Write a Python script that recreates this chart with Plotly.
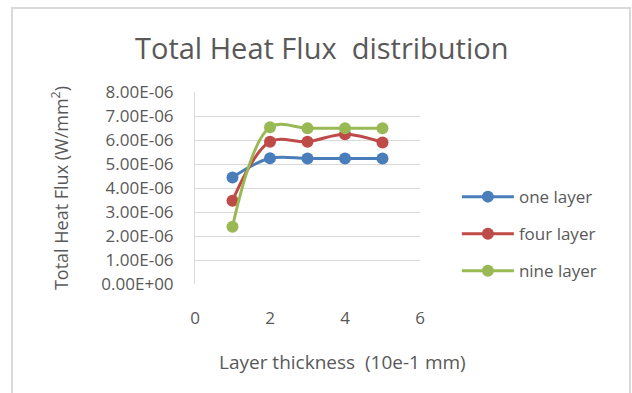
import plotly.graph_objects as go

x_vals = [1, 2, 3, 4, 5]
one_layer = [4.44e-6, 5.24e-6, 5.23e-6, 5.23e-6, 5.23e-6]
four_layer = [3.47e-6, 5.93e-6, 5.93e-6, 6.24e-6, 5.90e-6]
nine_layer = [2.39e-6, 6.53e-6, 6.49e-6, 6.49e-6, 6.49e-6]
series_names = ["one layer", "four layer", "nine layer"]
colors = ["#4a7ebb", "#be4b48", "#98b954"]
y_tick_vals = [0, 1e-6, 2e-6, 3e-6, 4e-6, 5e-6, 6e-6, 7e-6, 8e-6]
y_tick_text = ["0.00E+00", "1.00E-06", "2.00E-06", "3.00E-06", "4.00E-06",
               "5.00E-06", "6.00E-06", "7.00E-06", "8.00E-06"]
x_tick_vals = [0, 2, 4, 6]

FONT = "Open Sans, Lato, sans-serif"
TXT = "#595959"

fig = go.Figure()
for name, ys, c in zip(series_names, [one_layer, four_layer, nine_layer], colors):
    fig.add_trace(go.Scatter(
        x=x_vals, y=ys, name=name, mode="lines+markers",
        line=dict(color=c, width=3, shape="spline", smoothing=1.0),
        marker=dict(color=c, size=12),
        legendgroup=name,
    ))

fig.update_layout(
    width=632, height=393,
    margin=dict(l=195, r=212, t=92, b=109),
    paper_bgcolor="white", plot_bgcolor="white",
    font=dict(family=FONT, color=TXT, size=17),
    showlegend=True,
    legend=dict(x=1.164, y=0.26, xanchor="left", yanchor="middle",
                font=dict(size=17, color=TXT), tracegroupgap=12,
                itemwidth=52, bgcolor="rgba(0,0,0,0)"),
    xaxis=dict(range=[0, 6], tickvals=x_tick_vals, showgrid=False,
               zeroline=False, showline=False, ticks="",
               tickfont=dict(size=17, color=TXT), ticklabelstandoff=22),
    yaxis=dict(range=[0, 8e-6], tickvals=y_tick_vals, ticktext=y_tick_text,
               showgrid=True, gridcolor="#d9d9d9", gridwidth=1,
               zeroline=False, showline=True, linecolor="#d9d9d9", linewidth=1,
               ticks="", tickfont=dict(size=17, color=TXT), ticklabelstandoff=17,
               title=dict(text="Total Heat Flux (W/mm<sup>2</sup>)",
                          font=dict(size=18, color=TXT), standoff=28)),
)

fig.add_annotation(text="Total Heat Flux  distribution", xref="paper", yref="paper",
                   x=(322 - 195) / 225, y=(284 - 48) / 192,
                   xanchor="center", yanchor="middle", showarrow=False,
                   font=dict(size=29, color=TXT, family=FONT))
fig.add_annotation(text="Layer thickness  (10e-1 mm)", xref="paper", yref="paper",
                   x=(342 - 195) / 225, y=(284 - 362) / 192,
                   xanchor="center", yanchor="middle", showarrow=False,
                   font=dict(size=19, color=TXT, family=FONT))

# outer chart border
fig.add_shape(type="path", xref="paper", yref="paper",
              path="M %f %f L %f %f L %f %f L %f %f" % (
                  (12 - 195) / 225, -(393 - 284) / 192 - 0.05,
                  (12 - 195) / 225, 1 + (92 - 8) / 192,
                  (630 - 195) / 225, 1 + (92 - 8) / 192,
                  (630 - 195) / 225, -(393 - 284) / 192 - 0.05),
              line=dict(color="#d9d9d9", width=2))

fig.write_html("out.html")
